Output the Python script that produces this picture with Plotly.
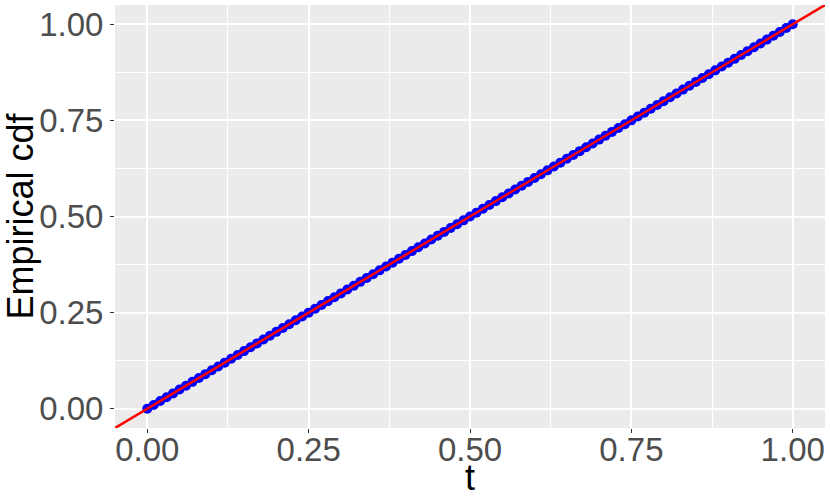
import plotly.graph_objects as go

# evaluation grid t and empirical cdf values
t = [0.00, 0.01, 0.02, 0.03, 0.04, 0.05, 0.06, 0.07, 0.08, 0.09,
     0.10, 0.11, 0.12, 0.13, 0.14, 0.15, 0.16, 0.17, 0.18, 0.19,
     0.20, 0.21, 0.22, 0.23, 0.24, 0.25, 0.26, 0.27, 0.28, 0.29,
     0.30, 0.31, 0.32, 0.33, 0.34, 0.35, 0.36, 0.37, 0.38, 0.39,
     0.40, 0.41, 0.42, 0.43, 0.44, 0.45, 0.46, 0.47, 0.48, 0.49,
     0.50, 0.51, 0.52, 0.53, 0.54, 0.55, 0.56, 0.57, 0.58, 0.59,
     0.60, 0.61, 0.62, 0.63, 0.64, 0.65, 0.66, 0.67, 0.68, 0.69,
     0.70, 0.71, 0.72, 0.73, 0.74, 0.75, 0.76, 0.77, 0.78, 0.79,
     0.80, 0.81, 0.82, 0.83, 0.84, 0.85, 0.86, 0.87, 0.88, 0.89,
     0.90, 0.91, 0.92, 0.93, 0.94, 0.95, 0.96, 0.97, 0.98, 0.99,
     1.00]
ecdf = [0.00, 0.01, 0.02, 0.03, 0.04, 0.05, 0.06, 0.07, 0.08, 0.09,
        0.10, 0.11, 0.12, 0.13, 0.14, 0.15, 0.16, 0.17, 0.18, 0.19,
        0.20, 0.21, 0.22, 0.23, 0.24, 0.25, 0.26, 0.27, 0.28, 0.29,
        0.30, 0.31, 0.32, 0.33, 0.34, 0.35, 0.36, 0.37, 0.38, 0.39,
        0.40, 0.41, 0.42, 0.43, 0.44, 0.45, 0.46, 0.47, 0.48, 0.49,
        0.50, 0.51, 0.52, 0.53, 0.54, 0.55, 0.56, 0.57, 0.58, 0.59,
        0.60, 0.61, 0.62, 0.63, 0.64, 0.65, 0.66, 0.67, 0.68, 0.69,
        0.70, 0.71, 0.72, 0.73, 0.74, 0.75, 0.76, 0.77, 0.78, 0.79,
        0.80, 0.81, 0.82, 0.83, 0.84, 0.85, 0.86, 0.87, 0.88, 0.89,
        0.90, 0.91, 0.92, 0.93, 0.94, 0.95, 0.96, 0.97, 0.98, 0.99,
        1.00]
tick_vals = [0.0, 0.25, 0.5, 0.75, 1.0]
tick_text = ["0.00", "0.25", "0.50", "0.75", "1.00"]

# reference line y = x (intercept 0, slope 1) across the whole panel
abline_intercept = 0.0
abline_slope = 1.0
x_range = [-0.05, 1.05]
y_range = [-0.05, 1.05]

fig = go.Figure()

fig.add_trace(go.Scatter(
    x=t, y=ecdf,
    mode='markers',
    marker=dict(size=10, color='blue'),
    showlegend=False,
))

fig.add_trace(go.Scatter(
    x=x_range,
    y=[abline_intercept + abline_slope * v for v in x_range],
    mode='lines',
    line=dict(color='red', width=2.5),
    showlegend=False,
))

axis_common = dict(
    tickvals=tick_vals,
    ticktext=tick_text,
    ticks='outside',
    ticklen=4,
    tickwidth=1,
    tickcolor='#333333',
    tickfont=dict(size=33, color='#4D4D4D'),
    showgrid=True,
    gridcolor='white',
    gridwidth=1.6,
    zeroline=False,
    showline=False,
    automargin=False,
    minor=dict(showgrid=True, gridcolor='white', gridwidth=0.8,
               tick0=0.125, dtick=0.25),
)

fig.update_layout(
    width=830, height=498,
    margin=dict(l=115, r=5, t=5, b=70),
    paper_bgcolor='white',
    plot_bgcolor='#EBEBEB',
    font=dict(family='Liberation Sans, Arial, sans-serif'),
    xaxis=dict(axis_common, range=x_range, ticklabelstandoff=-12,
               title=dict(text='t', font=dict(size=36, color='black'), standoff=4)),
    yaxis=dict(axis_common, range=y_range,
               title=dict(text='Empirical cdf', font=dict(size=36, color='black'), standoff=2)),
)

# drop the page's default body margin so the figure sits at the window's corner
fig.write_html("out.html", config={'displayModeBar': False},
               post_script="document.body.style.margin='0';")
